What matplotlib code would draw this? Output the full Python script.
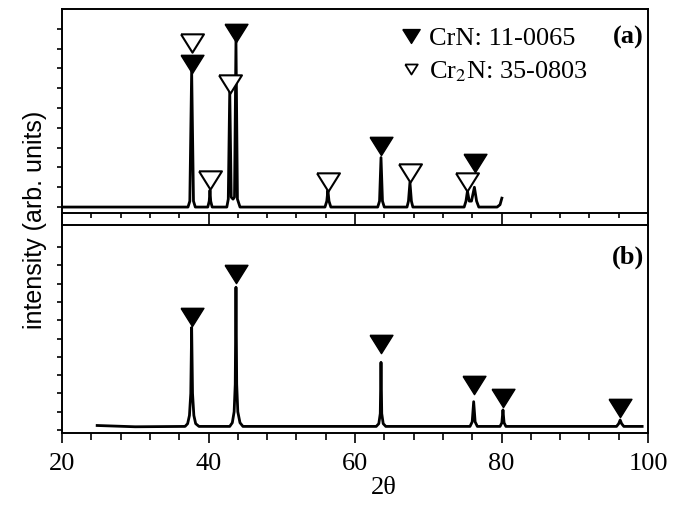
import numpy as np
import matplotlib
matplotlib.use('Agg')
import matplotlib.pyplot as plt
from matplotlib.lines import Line2D
from matplotlib.ticker import MultipleLocator

plt.rcParams['font.family'] = ['Liberation Serif', 'DejaVu Serif']
plt.rcParams['mathtext.fontset'] = 'stix'

# (a) XRD pattern, 2-theta vs intensity (baseline = 0)
two_theta_a = [20.0, 37.2, 37.45, 37.7, 37.95, 38.2,
               39.9, 40.1, 40.2, 40.3, 40.5,
               42.5, 42.7, 42.9, 43.1, 43.35, 43.55, 43.75, 43.95, 44.3,
               55.9, 56.15, 56.3, 56.45, 56.7,
               63.1, 63.35, 63.55, 63.75, 64.0,
               67.1, 67.3, 67.5, 67.7, 67.9,
               74.9, 75.15, 75.35, 75.6, 75.9, 76.3, 76.6, 76.9,
               79.4, 79.8, 80.05]
counts_a = [0.0, 0.0, 0.3, 6.9, 0.3, 0.0,
            0.0, 0.3, 0.85, 0.3, 0.0,
            0.0, 0.4, 5.9, 0.5, 0.4, 0.5, 8.4, 0.4, 0.0,
            0.0, 0.3, 0.85, 0.3, 0.0,
            0.0, 0.3, 2.5, 0.3, 0.0,
            0.0, 0.3, 1.25, 0.3, 0.0,
            0.0, 0.3, 0.8, 0.3, 0.3, 1.0, 0.3, 0.0,
            0.0, 0.12, 0.45]

# (b) XRD pattern
two_theta_b = [24.8, 30.0, 36.8, 37.15, 37.4, 37.58, 37.7, 37.82, 38.0, 38.25, 38.7,
               42.9, 43.25, 43.5, 43.65, 43.75, 43.85, 44.0, 44.3, 44.7,
               62.9, 63.25, 63.45, 63.55, 63.65, 63.85, 64.2,
               75.7, 76.0, 76.2, 76.4, 76.7,
               79.8, 80.05, 80.2, 80.35, 80.6,
               95.7, 96.0, 96.2, 96.4, 96.7, 99.2]
counts_b = [0.25, 0.18, 0.2, 0.35, 0.8, 2.0, 5.6, 2.0, 0.8, 0.35, 0.2,
            0.2, 0.4, 1.0, 2.5, 7.8, 2.5, 1.0, 0.4, 0.2,
            0.2, 0.35, 0.9, 3.7, 0.9, 0.35, 0.2,
            0.2, 0.45, 1.55, 0.45, 0.2,
            0.2, 0.4, 1.1, 0.4, 0.2,
            0.2, 0.35, 0.55, 0.35, 0.2, 0.2]

# phase markers (CrN filled, Cr2N open)
crn_a_x = [37.7, 43.75, 63.5, 76.4]
crn_a_y = [7.2, 8.8, 3.1, 2.2]
cr2n_a_x = [37.7, 40.2, 42.9, 56.3, 67.5, 75.3]
cr2n_a_y = [8.3, 1.35, 6.2, 1.25, 1.7, 1.25]
crn_b_x = [37.7, 43.75, 63.5, 76.2, 80.2, 96.2]
crn_b_y = [6.17, 8.52, 4.7, 2.46, 1.75, 1.2]

# wide, flat down-pointing triangle
tri = [(-1, 0.8), (1, 0.8), (0, -0.8), (-1, 0.8)]

W, H = 676, 507
fig = plt.figure(figsize=(W / 100, H / 100), dpi=100)
x0, x1 = 62 / W, 648 / W
ax_a = fig.add_axes([x0, 1 - 213 / H, x1 - x0, 204 / H])
ax_b = fig.add_axes([x0, 1 - 433 / H, x1 - x0, 208 / H])

lw = 1.4
for ax in (ax_a, ax_b):
    ax.set_xlim(20, 100)
    for s in ax.spines.values():
        s.set_linewidth(lw)
    ax.xaxis.set_major_locator(MultipleLocator(20))
    ax.xaxis.set_minor_locator(MultipleLocator(4))
    ax.yaxis.set_major_locator(MultipleLocator(1))
    ax.tick_params(axis='y', which='major', direction='out', length=3.6,
                   width=1.2, labelleft=False)

ax_a.set_ylim(-0.3, 10.0)
ax_a.set_yticks(np.arange(0, 10))
ax_a.tick_params(axis='x', which='major', direction='out', length=8.6,
                 width=1.2, labelbottom=False)
ax_a.tick_params(axis='x', which='minor', direction='out', length=3.5,
                 width=1.2)

ax_b.set_ylim(-0.16, 11.2)
ax_b.set_yticks(np.arange(0, 11))
ax_b.tick_params(axis='x', which='major', direction='out', length=7.5,
                 width=1.2, labelsize=19, pad=7)
ax_b.tick_params(axis='x', which='minor', direction='out', length=5,
                 width=1.2)

ax_a.plot(two_theta_a, counts_a, color='black', lw=2.0)
ax_b.plot(two_theta_b, counts_b, color='black', lw=2.0)

ax_a.plot(crn_a_x, crn_a_y, ls='none', marker=tri, ms=16.5, color='black')
ax_a.plot(cr2n_a_x, cr2n_a_y, ls='none', marker=tri, ms=16.5,
          mfc='white', mec='black', mew=1.5)
ax_b.plot(crn_b_x, crn_b_y, ls='none', marker=tri, ms=16.5, color='black')

handles = [Line2D([], [], ls='none', marker=tri, ms=12.5, color='black'),
           Line2D([], [], ls='none', marker=tri, ms=9, mfc='white',
                  mec='black', mew=1.3)]
ax_a.legend(handles, ['CrN: 11-0065', 'Cr$_2$N: 35-0803'],
            loc='upper left', bbox_to_anchor=(400 / W, 1 - 27 / H),
            bbox_transform=fig.transFigure, frameon=False, fontsize=19,
            handlelength=0.8, handletextpad=0.3, labelspacing=0.35,
            borderpad=0, borderaxespad=0)

fig.text(628 / W, 1 - 37 / H, '(a)', ha='center', va='center',
         fontsize=19, fontweight='bold')
fig.text(628 / W, 1 - 257 / H, '(b)', ha='center', va='center',
         fontsize=19, fontweight='bold')
fig.text(35 / W, 1 - 220 / H, 'intensity (arb. units)', rotation=90,
         ha='center', va='center', fontsize=18, family='Liberation Sans')
fig.text(384 / W, 1 - 488 / H, '2θ', ha='center', va='center', fontsize=19)

# frame continues through the gap between the panels
for xf in (x0, x1):
    fig.add_artist(Line2D([xf, xf], [1 - 225 / H, 1 - 213 / H],
                          color='black', lw=lw))

fig.savefig('out.png', dpi=100)
